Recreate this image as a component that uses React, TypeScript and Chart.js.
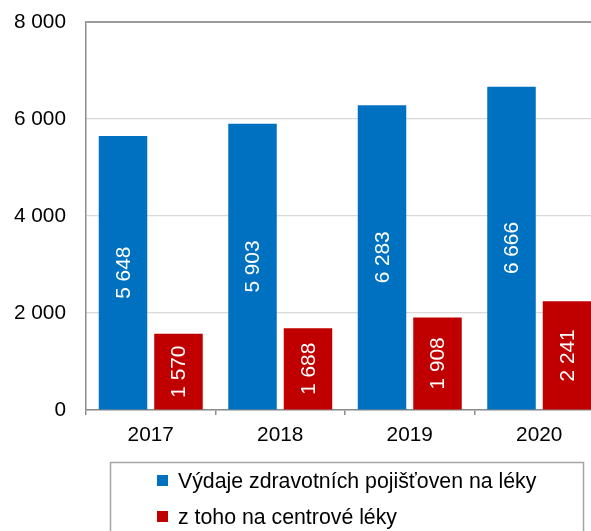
import React, { useEffect, useRef } from "react";
import { Chart, registerables } from "chart.js";

Chart.register(...registerables);

const categories = ["2017", "2018", "2019", "2020"];
const totalSpending = [5648, 5903, 6283, 6666];
const centralDrugs = [1570, 1688, 1908, 2241];
const seriesLabels = ["Výdaje zdravotních pojišťoven na léky", "z toho na centrové léky"];
const seriesColors = ["#0070C0", "#C00000"];
const yTicks = [0, 2000, 4000, 6000, 8000];

const FONT = "Liberation Sans, Arial, sans-serif";
const FS = 20.8;

const fmt = (n: number) => String(n).replace(/\B(?=(\d{3})+(?!\d))/g, " ");

const valueLabels = {
  id: "valueLabels",
  afterDatasetsDraw(chart: any) {
    const ctx = chart.ctx;
    ctx.save();
    ctx.fillStyle = "#ffffff";
    ctx.font = `${FS}px ${FONT}`;
    ctx.textAlign = "center";
    ctx.textBaseline = "middle";
    chart.data.datasets.forEach((ds: any, di: number) => {
      const meta = chart.getDatasetMeta(di);
      meta.data.forEach((el: any, i: number) => {
        const cy = (el.y + el.base) / 2;
        ctx.save();
        ctx.translate(el.x, cy);
        ctx.rotate(-Math.PI / 2);
        ctx.fillText(fmt(ds.data[i]), 0, 1);
        ctx.restore();
      });
    });
    ctx.restore();
  },
};

const boxLegend = {
  id: "boxLegend",
  afterDraw(chart: any) {
    const ctx = chart.ctx;
    ctx.save();
    ctx.strokeStyle = "#a6a6a6";
    ctx.lineWidth = 1.5;
    ctx.strokeRect(110.5, 462.5, 473, 120);
    ctx.font = `21.3px ${FONT}`;
    ctx.textAlign = "left";
    ctx.textBaseline = "middle";
    const rows = [481, 517];
    chart.data.datasets.forEach((ds: any, i: number) => {
      ctx.fillStyle = ds.backgroundColor;
      ctx.fillRect(157, rows[i] - 6, 11, 11);
      ctx.fillStyle = "#000000";
      ctx.fillText(ds.label, 178, rows[i] + 1);
    });
    ctx.restore();
  },
};

export default function App() {
  const ref = useRef<HTMLCanvasElement>(null);
  useEffect(() => {
    if (!ref.current) return;
    const chart = new Chart(ref.current, {
      type: "bar",
      data: {
        labels: categories,
        datasets: [
          { label: seriesLabels[0], data: totalSpending, backgroundColor: seriesColors[0], barPercentage: 0.874, categoryPercentage: 0.857 },
          { label: seriesLabels[1], data: centralDrugs, backgroundColor: seriesColors[1], barPercentage: 0.874, categoryPercentage: 0.857 },
        ],
      },
      options: {
        responsive: false,
        animation: false,
        layout: { padding: { top: 22, right: 6, left: 0, bottom: 0 } },
        plugins: { legend: { display: false }, tooltip: { enabled: false } },
        scales: {
          x: {
            offset: true,
            grid: { drawOnChartArea: false, tickLength: 5, color: "#8c8c8c", lineWidth: 1.5, offset: true },
            border: { color: "#8c8c8c", width: 1.5 },
            ticks: { color: "#000", font: { family: FONT, size: FS }, padding: 8 },
            afterFit: (s: any) => { s.height = 121; },
          },
          y: {
            min: 0,
            max: 8000,
            afterBuildTicks: (s: any) => { s.ticks = yTicks.map((v) => ({ value: v })); },
            grid: {
              drawTicks: false,
              color: (c: any) => (c.tick && c.tick.value === 8000 ? "#999999" : "#d9d9d9"),
              lineWidth: (c: any) => (c.tick && c.tick.value === 8000 ? 2 : 1.2),
            },
            border: { color: "#8c8c8c", width: 1.5 },
            ticks: { color: "#000", font: { family: FONT, size: FS }, padding: 20, callback: (v: any) => fmt(Number(v)) },
            afterFit: (s: any) => { s.width = 86; s.paddingTop = 0; s.paddingBottom = 0; },
          },
        },
      },
      plugins: [valueLabels, boxLegend],
    });
    return () => chart.destroy();
  }, []);
  return (
    <div style={{ position: "absolute", left: 0, top: 0, width: 591, height: 531, overflow: "hidden", background: "#fff" }}>
      <canvas ref={ref} width={610} height={531} style={{ display: "block" }} />
    </div>
  );
}
